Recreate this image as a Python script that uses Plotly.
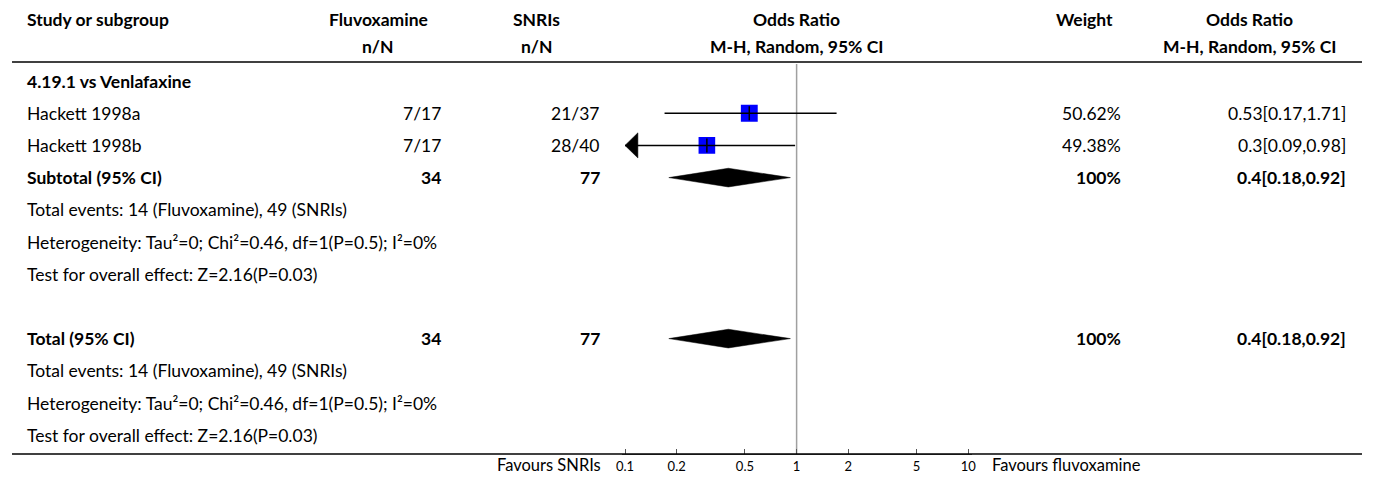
import math
import plotly.graph_objects as go

# ---------------- data ----------------
header1 = ["Study or subgroup", "Fluvoxamine", "SNRIs", "Odds Ratio", "Weight", "Odds Ratio"]
header2 = ["", "n/N", "n/N", "M-H, Random, 95% CI", "", "M-H, Random, 95% CI"]

row_labels = [
    "4.19.1 vs Venlafaxine",
    "Hackett 1998a",
    "Hackett 1998b",
    "Subtotal (95% CI)",
    "Total events: 14 (Fluvoxamine), 49 (SNRIs)",
    "Heterogeneity: Tau²=0; Chi²=0.46, df=1(P=0.5); I²=0%",
    "Test for overall effect: Z=2.16(P=0.03)",
    "",
    "Total (95% CI)",
    "Total events: 14 (Fluvoxamine), 49 (SNRIs)",
    "Heterogeneity: Tau²=0; Chi²=0.46, df=1(P=0.5); I²=0%",
    "Test for overall effect: Z=2.16(P=0.03)",
]
row_bold = [True, False, False, True, False, False, False, False, True, False, False, False]
fluvox_col = ["", "7/17", "7/17", "34", "", "", "", "", "34", "", "", ""]
snri_col = ["", "21/37", "28/40", "77", "", "", "", "", "77", "", "", ""]
weight_col = ["", "50.62%", "49.38%", "100%", "", "", "", "", "100%", "", "", ""]
or_col = ["", "0.53[0.17,1.71]", "0.3[0.09,0.98]", "0.4[0.18,0.92]", "", "", "", "",
          "0.4[0.18,0.92]", "", "", ""]

# studies
study_rows = [1, 2]
study_or = [0.53, 0.3]
study_lo = [0.17, 0.09]
study_hi = [1.71, 0.98]
study_weight = [50.62, 49.38]

# pooled
pooled_rows = [3, 8]
pooled_or = [0.4, 0.4]
pooled_lo = [0.18, 0.18]
pooled_hi = [0.92, 0.92]

tick_vals = [0.1, 0.2, 0.5, 1, 2, 5, 10]
tick_text = ["0.1", "0.2", "0.5", "1", "2", "5", "10"]
x_min, x_max = 0.1, 10
favours_left = "Favours SNRIs"
favours_right = "Favours fluvoxamine"

# ---------------- layout constants ----------------
PAGE_W, PAGE_H = 1373, 484
OFF = 8  # default body margin of the html page
W, H = PAGE_W - 2 * OFF, PAGE_H - 2 * OFF
FONT = "Lato"
FS = 17.5
ROW0_PX = 81.0
ROW_H = 32.2
AXIS_PX = 454.0
HEADER_LINE_PX = 62.0
DEC_PX = 173.0
ONE_PX = 797.0


def px_to_row(p):
    return (p - ROW0_PX) / ROW_H


def fx(p):  # page x pixel -> paper x
    return (p - OFF) / W


def fy(p):  # page y pixel -> paper y
    return 1 - (p - OFF) / H


y_top = px_to_row(OFF)
y_bot = px_to_row(AXIS_PX)

fig = go.Figure()

# vertical reference line at OR = 1
fig.add_trace(go.Scatter(
    x=[1, 1], y=[px_to_row(HEADER_LINE_PX + 2), y_bot], mode="lines",
    line=dict(color="#a0a0a0", width=1.5), hoverinfo="skip", showlegend=False))

# study squares
for r, o, w in zip(study_rows, study_or, study_weight):
    fig.add_trace(go.Scatter(
        x=[o], y=[r], mode="markers",
        marker=dict(symbol="square", size=8 + w * 0.175, color="#0000ff", line=dict(width=0)),
        hoverinfo="skip", showlegend=False))

# CI lines and arrows
arrow_w = 10 ** (13 / DEC_PX)
arrow_h = 0.39
for r, o, lo, hi in zip(study_rows, study_or, study_lo, study_hi):
    lo_c = max(lo, x_min)
    hi_c = min(hi, x_max)
    fig.add_trace(go.Scatter(
        x=[lo_c, hi_c], y=[r, r], mode="lines",
        line=dict(color="black", width=1.5), hoverinfo="skip", showlegend=False))
    fig.add_trace(go.Scatter(
        x=[o], y=[r], mode="markers",
        marker=dict(symbol="line-ns", size=10, color="black",
                    line=dict(color="black", width=1.5)),
        hoverinfo="skip", showlegend=False))
    if lo < x_min:
        fig.add_trace(go.Scatter(
            x=[x_min, x_min * arrow_w, x_min * arrow_w, x_min],
            y=[r, r - arrow_h, r + arrow_h, r], mode="lines", fill="toself",
            fillcolor="black", line=dict(color="black", width=0.5),
            hoverinfo="skip", showlegend=False))
    if hi > x_max:
        fig.add_trace(go.Scatter(
            x=[x_max, x_max / arrow_w, x_max / arrow_w, x_max],
            y=[r, r - arrow_h, r + arrow_h, r], mode="lines", fill="toself",
            fillcolor="black", line=dict(color="black", width=0.5),
            hoverinfo="skip", showlegend=False))

# diamonds
dh = 0.29
for r, o, lo, hi in zip(pooled_rows, pooled_or, pooled_lo, pooled_hi):
    fig.add_trace(go.Scatter(
        x=[lo, o, hi, o, lo], y=[r, r - dh, r, r + dh, r], mode="lines",
        fill="toself", fillcolor="black", line=dict(color="black", width=0.5),
        hoverinfo="skip", showlegend=False))

ann = []


def add_text(xpx, y, text, anchor="left", bold=False, size=FS, yref="y"):
    ann.append(dict(
        x=fx(xpx), y=y, xref="paper", yref=yref,
        text=f"<b>{text}</b>" if bold else text,
        showarrow=False, xanchor=anchor, yanchor="middle", borderpad=0,
        font=dict(family=FONT, size=size, color="black")))


# headers
hdr_x = [(20, "left"), (375, "center"), (535, "center"), (797, "center"), (1087, "center"), (1254, "center")]
h1_row = px_to_row(19)
h2_row = px_to_row(46)
for (x, a), t1, t2 in zip(hdr_x, header1, header2):
    if t1:
        add_text(x, h1_row, t1, a, bold=True)
    if t2:
        add_text(x, h2_row, t2, a, bold=True)

col_right = [440, 600, 1125, 1352]
for i, (lab, b) in enumerate(zip(row_labels, row_bold)):
    if lab:
        add_text(20, i, lab, "left", bold=b)
    for xr, col in zip(col_right, [fluvox_col, snri_col, weight_col, or_col]):
        if col[i]:
            add_text(xr, i, col[i], "right", bold=b)

# footer labels
add_text(601, fy(465), favours_left, "right", size=16.5, yref="paper")
add_text(993, fy(465), favours_right, "left", size=16.5, yref="paper")

shapes = [
    dict(type="line", xref="paper", yref="paper", x0=fx(6), x1=fx(1367),
         y0=fy(HEADER_LINE_PX), y1=fy(HEADER_LINE_PX),
         line=dict(color="black", width=1.5)),
    dict(type="line", xref="paper", yref="paper", x0=fx(6), x1=fx(1367),
         y0=fy(AXIS_PX), y1=fy(AXIS_PX), line=dict(color="black", width=1.5)),
]

pad = 0.02
fig.update_layout(
    width=W, height=H, autosize=False,
    margin=dict(l=0, r=0, t=0, b=0),
    paper_bgcolor="white", plot_bgcolor="white",
    annotations=ann, shapes=shapes, showlegend=False,
    xaxis=dict(
        type="log", range=[math.log10(x_min) - pad, math.log10(x_max) + pad],
        domain=[fx(ONE_PX - DEC_PX * (1 + pad)), fx(ONE_PX + DEC_PX * (1 + pad))],
        tickvals=tick_vals, ticktext=tick_text, ticks="inside", ticklen=5,
        tickcolor="#555", showline=True, linecolor="#555", linewidth=1,
        showgrid=False, zeroline=False, anchor="y",
        tickfont=dict(family=FONT, size=13, color="black"),
    ),
    yaxis=dict(range=[y_bot, y_top], domain=[fy(AXIS_PX), 1],
               visible=False, showgrid=False, zeroline=False),
)

fig.write_html("out.html")
